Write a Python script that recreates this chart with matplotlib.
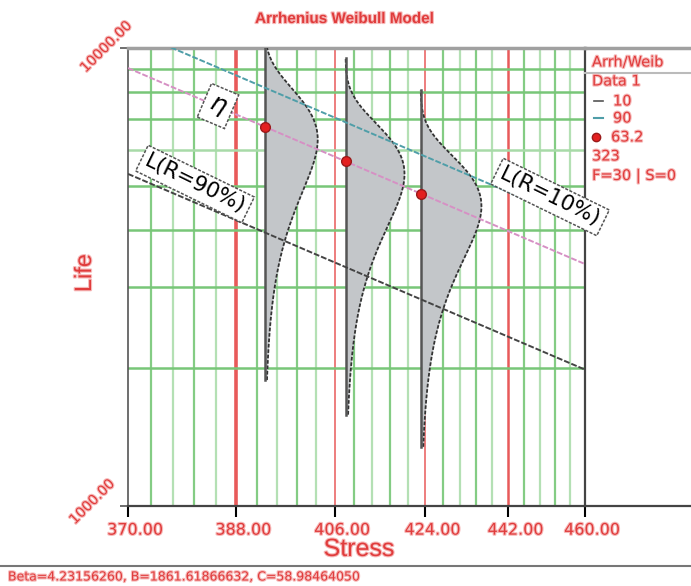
import numpy as np
import matplotlib
matplotlib.use('Agg')
import matplotlib.pyplot as plt
import matplotlib.transforms as mtransforms
import matplotlib.patheffects as pe
from matplotlib.lines import Line2D
from matplotlib.ticker import NullLocator
from matplotlib import font_manager

plt.rcParams['font.family'] = ['DejaVu Sans']

# Model parameters (footer of the chart)
beta = 4.23156260
footer = "Beta=4.23156260, B=1861.61866632, C=58.98464050"

# Life lines read at the two ends of the stress axis
stress_ends = [370.0, 460.0]
eta_life = [9040, 3375]      # 63.2% line
l10_life = [5310, 1985]      # 10% unreliability -> L(R=90%)
l90_life = [11000, 4110]     # 90% unreliability -> L(R=10%)

# Stress levels with pdfs and their eta points
pdf_stress = [393, 408, 423]
pdf_eta = [6730, 5655, 4810]
pdf_width = [0.116, 0.129, 0.133]   # peak width as axes fraction

major_x = [370, 388, 406, 424, 442, 460]
x_labels = ['370.00', '388.00', '406.00', '424.00', '442.00', '460.00']
y_grid = [2000, 3000, 4000, 5000, 6000, 7000, 8000, 9000]

red = '#e03c3c'
glow = [pe.withStroke(linewidth=1.6, foreground='#f6b8b8')]
W, H = 691, 586

installed = {f.name for f in font_manager.fontManager.ttflist}
narrow = 'Liberation Sans Narrow' if 'Liberation Sans Narrow' in installed else None


def fx(px):
    return px / W


def fy(py):
    return 1 - py / H


def recip(x):
    with np.errstate(divide='ignore', invalid='ignore'):
        return -1.0 / np.asarray(x, dtype=float)


fig = plt.figure(figsize=(W / 100, H / 100), dpi=100)
ax = fig.add_axes([fx(128), fy(506), (585 - 128) / W, (506 - 48) / H])
ax.set_xscale('function', functions=(recip, recip))
ax.set_yscale('log')
ax.set_xlim(370, 460)
ax.set_ylim(1000, 10000)

# vertical grid: minor every 3.6 units, majors in red
minor_x = [370 + 3.6 * k for k in range(1, 25) if k % 5 != 0]
for i, x in enumerate(minor_x):
    c = '#84cc84' if i % 2 == 0 else '#b4e0b4'
    ax.axvline(x, color=c, lw=1.6, zorder=1)
for x, lw in zip(major_x[1:-1], [2.6, 1.1, 1.1, 1.8]):
    ax.axvline(x, color='#e85a5a', lw=lw, zorder=1)
for y in y_grid:
    c = '#a8daa8' if y == 6000 else '#78c678'
    ax.axhline(y, color=c, lw=1.8, zorder=1)

# pdfs
inv_lo, inv_span = 1 / 370, 1 / 370 - 1 / 460
for s0, eta, w in zip(pdf_stress, pdf_eta, pdf_width):
    t = np.geomspace(0.28 * eta, 1.68 * eta, 400)
    f = (beta / eta) * (t / eta) ** (beta - 1) * np.exp(-(t / eta) ** beta)
    f = f / f.max()
    frac0 = (inv_lo - 1 / s0) / inv_span
    s = 1 / (inv_lo - (frac0 + w * f) * inv_span)
    ax.fill_betweenx(t, s0, s, color='#c3c6c9', lw=0, zorder=3)
    ax.plot(s, t, color='#333333', lw=1.3, ls=(0, (2, 1)), zorder=4)
    ax.plot([s0, s0], [t[0], t[-1]], color='#555555', lw=1.8, zorder=4)

# life lines
ax.plot(stress_ends, l90_life, color='#4f9ea8', lw=1.4, ls=(0, (3, 1)), zorder=5)
ax.plot(stress_ends, eta_life, color='#d690c4', lw=1.4, ls=(0, (3, 1)), zorder=5)
ax.plot(stress_ends, l10_life, color='#444444', lw=1.4, ls=(0, (3, 1)), zorder=5)
ax.plot(pdf_stress, pdf_eta, 'o', ms=7, mfc='#e32020', mec='#9a1a1a', zorder=6)

# axes styling
for side, c, lw in [('top', '#a0a0a0', 2.5), ('left', '#555555', 1.2),
                    ('right', '#444444', 1.6), ('bottom', '#444444', 1.6)]:
    ax.spines[side].set_color(c)
    ax.spines[side].set_linewidth(lw)

ax.set_xticks(major_x)
ax.set_xticklabels(x_labels)
ax.xaxis.set_minor_locator(NullLocator())
ax.tick_params(axis='x', length=8, width=1.5, direction='out', pad=4,
               labelsize=11.5, labelcolor=red)
for i, tick in enumerate(ax.xaxis.get_major_ticks()):
    tick.tick1line.set_color('#555555' if i in (0, 5) else '#e85a5a')
offset = mtransforms.ScaledTranslation(0.07, 0, fig.dpi_scale_trans)
for lab in ax.get_xticklabels():
    lab.set_transform(lab.get_transform() + offset)
    lab.set_path_effects(glow)

ax.set_yticks([1000, 10000])
ax.set_yticklabels(['', ''])
ax.yaxis.set_minor_locator(NullLocator())
ax.tick_params(axis='y', length=6, width=1.2, color='#555555')

# y labels rotated
fig.text(fx(106), fy(47), '10000.00', color=red, fontsize=10, rotation=45,
         ha='center', va='center', path_effects=glow)
fig.text(fx(92), fy(502), '1000.00', color=red, fontsize=10, rotation=45,
         ha='center', va='center', path_effects=glow)

if narrow:
    fig.text(fx(345), fy(19), 'Arrhenius Weibull Model', color=red, fontsize=13.5,
             family=narrow, fontweight='bold', ha='center', va='center',
             path_effects=glow)
else:
    fig.text(fx(345), fy(19), 'Arrhenius Weibull Model', color=red, fontsize=11,
             family='Liberation Sans', fontweight='bold', ha='center',
             va='center', path_effects=glow)
fig.text(fx(359), fy(549), 'Stress', color=red, fontsize=18,
         family='Liberation Sans', ha='center', va='center', path_effects=glow)
fig.text(fx(85), fy(273), 'Life', color=red, fontsize=17,
         family='Liberation Sans', rotation=90, ha='center', va='center',
         path_effects=glow)

# line labels
box = dict(boxstyle='square,pad=0.2', fc='white', ec='#555555', lw=1.1,
           ls=(0, (2, 1)))
fig.text(fx(218), fy(106), r'$\eta$', fontsize=18, rotation=-23, ha='center',
         va='center', bbox=dict(box, boxstyle='square,pad=0.25'), zorder=10)
fig.text(fx(195), fy(184), 'L(R=90%)', fontsize=15.5, rotation=-26, ha='center',
         va='center', bbox=box, zorder=10)
fig.text(fx(550), fy(197), 'L(R=10%)', fontsize=15.5, rotation=-26, ha='center',
         va='center', bbox=box, zorder=10)

# legend panel to the right of the axes
fig.add_artist(Line2D([fx(585), 1], [fy(48), fy(48)], color='#a0a0a0', lw=2.5))
fig.add_artist(Line2D([fx(585), 1], [fy(506), fy(506)], color='#444444', lw=1.6))
fig.add_artist(Line2D([fx(585), 1], [fy(73), fy(73)], color='#bbbbbb', lw=1.5))
legend_rows = [(592, 62, 'Arrh/Weib'), (592, 81, 'Data 1'), (613, 101, '10'),
               (613, 118, '90'), (611, 137, '63.2'), (592, 156, '323'),
               (592, 176, 'F=30 | S=0')]
for x, y, s in legend_rows:
    fig.text(fx(x), fy(y), s, color=red, fontsize=10.5, va='center',
             path_effects=glow)
fig.add_artist(Line2D([fx(594), fx(603)], [fy(101), fy(101)], color='#555555', lw=1.2))
fig.add_artist(Line2D([fx(594), fx(603)], [fy(118), fy(118)], color='#4f9ea8', lw=1.5))
fig.add_artist(Line2D([fx(596)], [fy(137)], marker='o', ms=6, mfc='#e32020',
                      mec='#9a1a1a', ls='none'))

# footer
fig.add_artist(Line2D([0, 1], [fy(566), fy(566)], color='#777777', lw=1.5))
fig.text(fx(8), fy(577), footer, color=red, fontsize=9, va='center',
         path_effects=glow)

fig.savefig('out.png', dpi=100, facecolor='white')
